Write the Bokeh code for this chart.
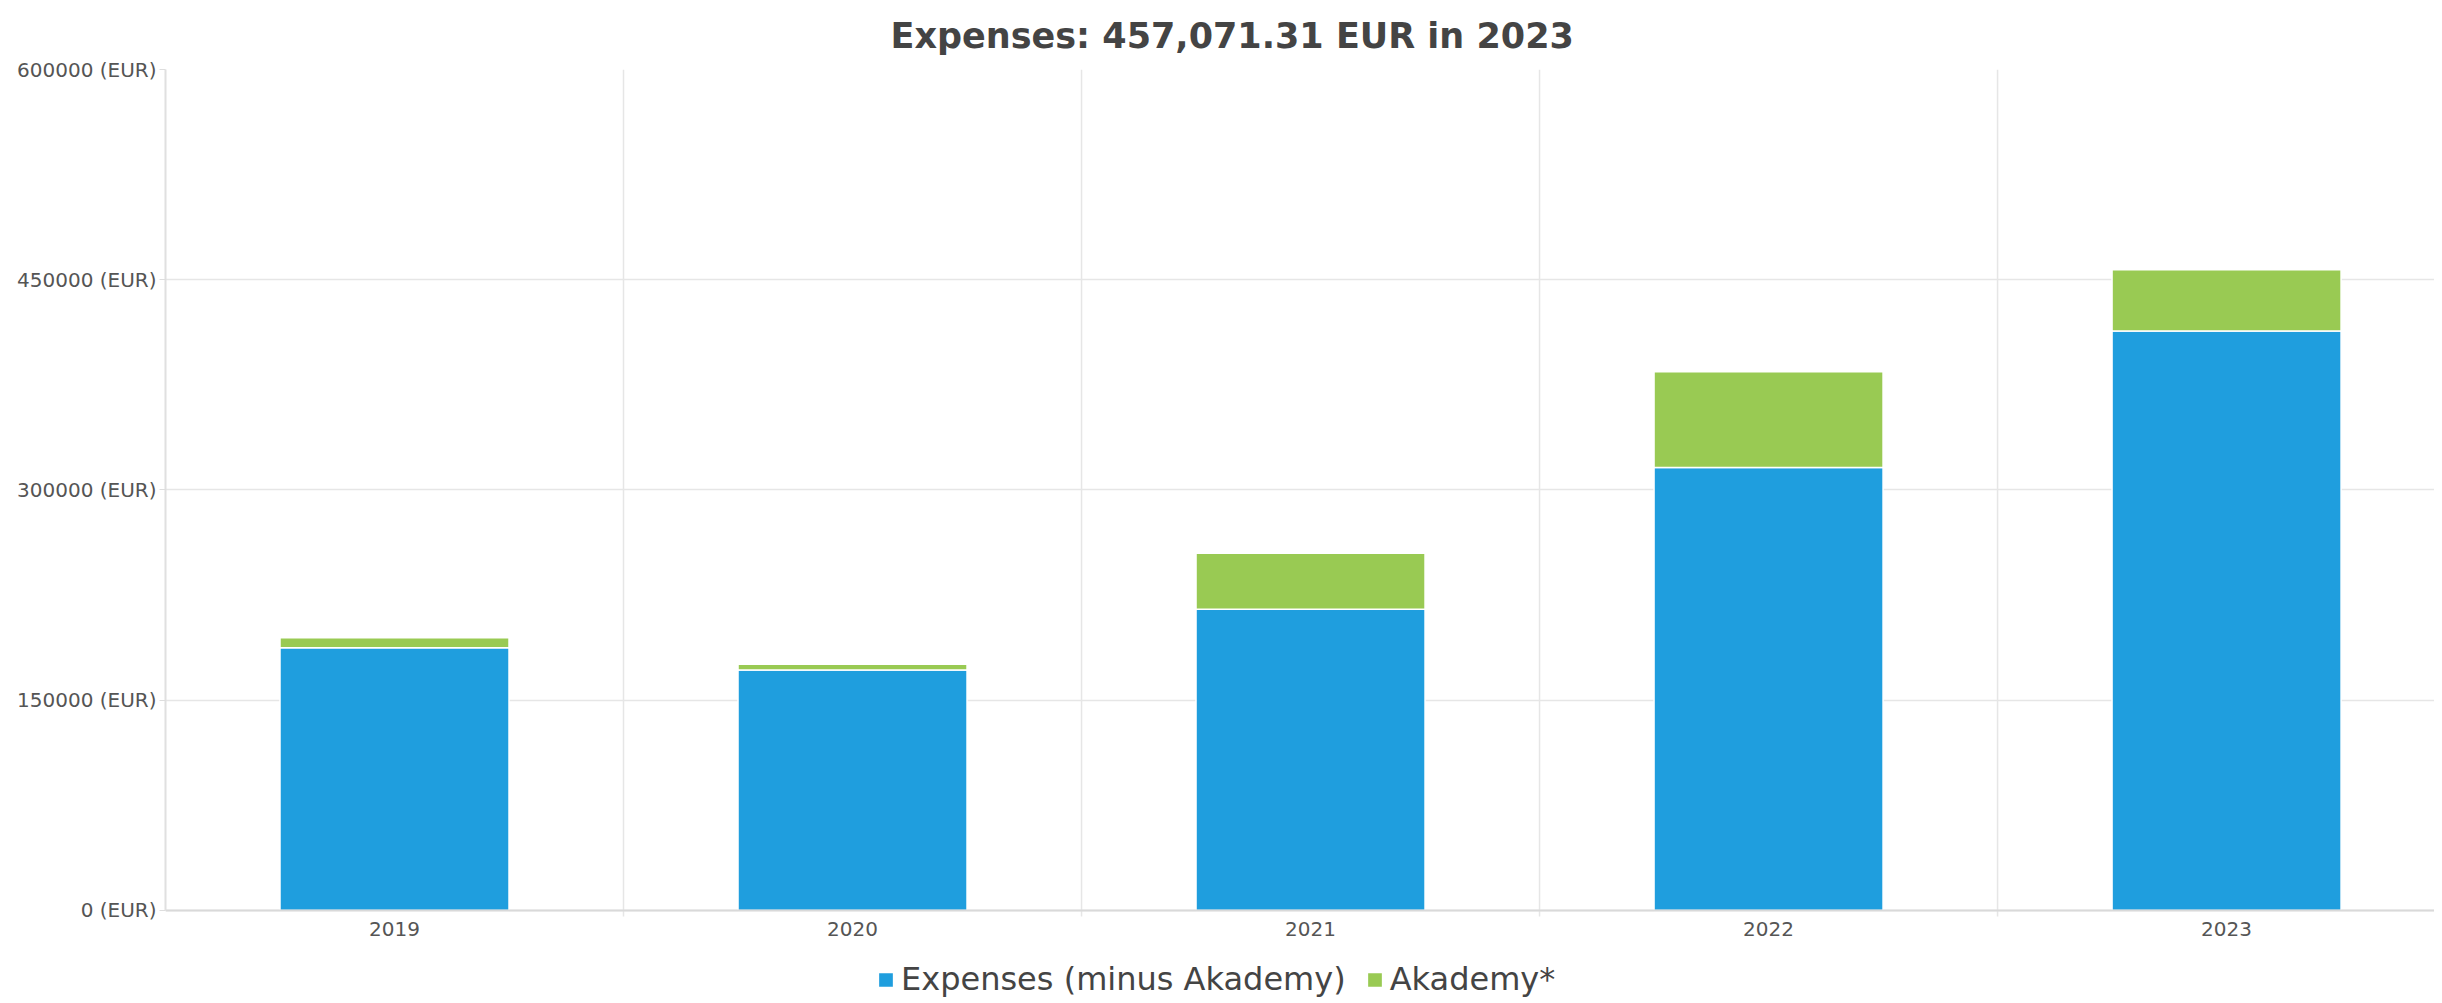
from bokeh.plotting import figure
from bokeh.models import ColumnDataSource, FixedTicker, Legend, LegendItem, Range1d, Title
from bokeh.embed import file_html
from bokeh.resources import INLINE

# ---- data ----
years = ["2019", "2020", "2021", "2022", "2023"]
expenses_minus_akademy = [187500, 171600, 215000, 316000, 413500]
akademy = [7100, 4000, 39900, 68300, 43571.31]
series_names = ["Expenses (minus Akademy)", "Akademy*"]
series_colors = ["#1f9ede", "#99ca53"]
y_ticks = [0, 150000, 300000, 450000, 600000]
y_tick_labels = [f"{t} (EUR)" for t in y_ticks]
title_text = "Expenses: 457,071.31 EUR in 2023"

FONT = "DejaVu Sans"
Y_MAX = 600000
Y_LOW = -63500     # room below the zero line for the axis labels and the legend
TICK_STUB = -4300  # small category-boundary tick below the zero line

xs = list(range(1, len(years) + 1))
boundaries = [x + 0.5 for x in xs[:-1]]
src = ColumnDataSource(dict(x=xs, base=expenses_minus_akademy, extra=akademy))

p = figure(frame_width=2269, frame_height=930,
           x_range=Range1d(0.5, 5.454), y_range=Range1d(Y_LOW, Y_MAX),
           output_backend="svg", toolbar_location=None,
           min_border_left=165, min_border_right=0, min_border_top=68,
           min_border_bottom=0, background_fill_color="white",
           border_fill_color="white")
p.outline_line_color = None

p.title = Title(text=title_text, align="left", offset=725,
                text_font=FONT, text_font_size="35px", text_font_style="bold",
                text_color="#444444", standoff=27)

# vertical category separators (grid lines with a short stub below the axis)
p.segment(x0=boundaries, y0=[TICK_STUB] * len(boundaries),
          x1=boundaries, y1=[Y_MAX] * len(boundaries),
          line_color="#e6e6e6", line_width=1.5)

renderers = p.vbar_stack(["base", "extra"], x="x", width=0.5, source=src,
                         fill_color=series_colors, line_color="white",
                         line_width=1.5)

# axes
p.xaxis.fixed_location = 0
p.xaxis.ticker = FixedTicker(ticks=xs)
p.xaxis.major_label_overrides = {x: y for x, y in zip(xs, years)}
p.xaxis.major_tick_line_color = None
p.xaxis.minor_tick_line_color = None
p.xaxis.axis_line_color = "#d9d9d9"
p.xaxis.axis_line_width = 2
p.xaxis.major_label_text_font = FONT
p.xaxis.major_label_text_font_size = "20px"
p.xaxis.major_label_text_color = "#555555"
p.xaxis.major_label_standoff = 6

p.yaxis.ticker = FixedTicker(ticks=y_ticks)
p.yaxis.bounds = (0, Y_MAX)
p.yaxis.major_label_overrides = {t: l for t, l in zip(y_ticks, y_tick_labels)}
p.yaxis.minor_tick_line_color = None
p.yaxis.major_tick_line_color = "#dddddd"
p.yaxis.major_tick_out = 6
p.yaxis.major_tick_in = 0
p.yaxis.axis_line_color = "#e0e0e0"
p.yaxis.axis_line_width = 2
p.yaxis.major_label_text_font = FONT
p.yaxis.major_label_text_font_size = "20px"
p.yaxis.major_label_text_color = "#555555"
p.yaxis.major_label_standoff = 3

# grids
p.xgrid.grid_line_color = None
p.ygrid.grid_line_color = "#e6e6e6"
p.ygrid.grid_line_width = 1.5

legend = Legend(items=[LegendItem(label=n, renderers=[r]) for n, r in zip(series_names, renderers)],
                orientation="horizontal", location=(711, 1),
                label_text_font=FONT, label_text_font_size="32px",
                label_text_color="#444444", glyph_width=19, glyph_height=19,
                label_standoff=6, spacing=19, padding=0, margin=0,
                border_line_color=None, background_fill_alpha=0)
p.add_layout(legend, "center")

open("out.html", "w").write(file_html(p, INLINE))
